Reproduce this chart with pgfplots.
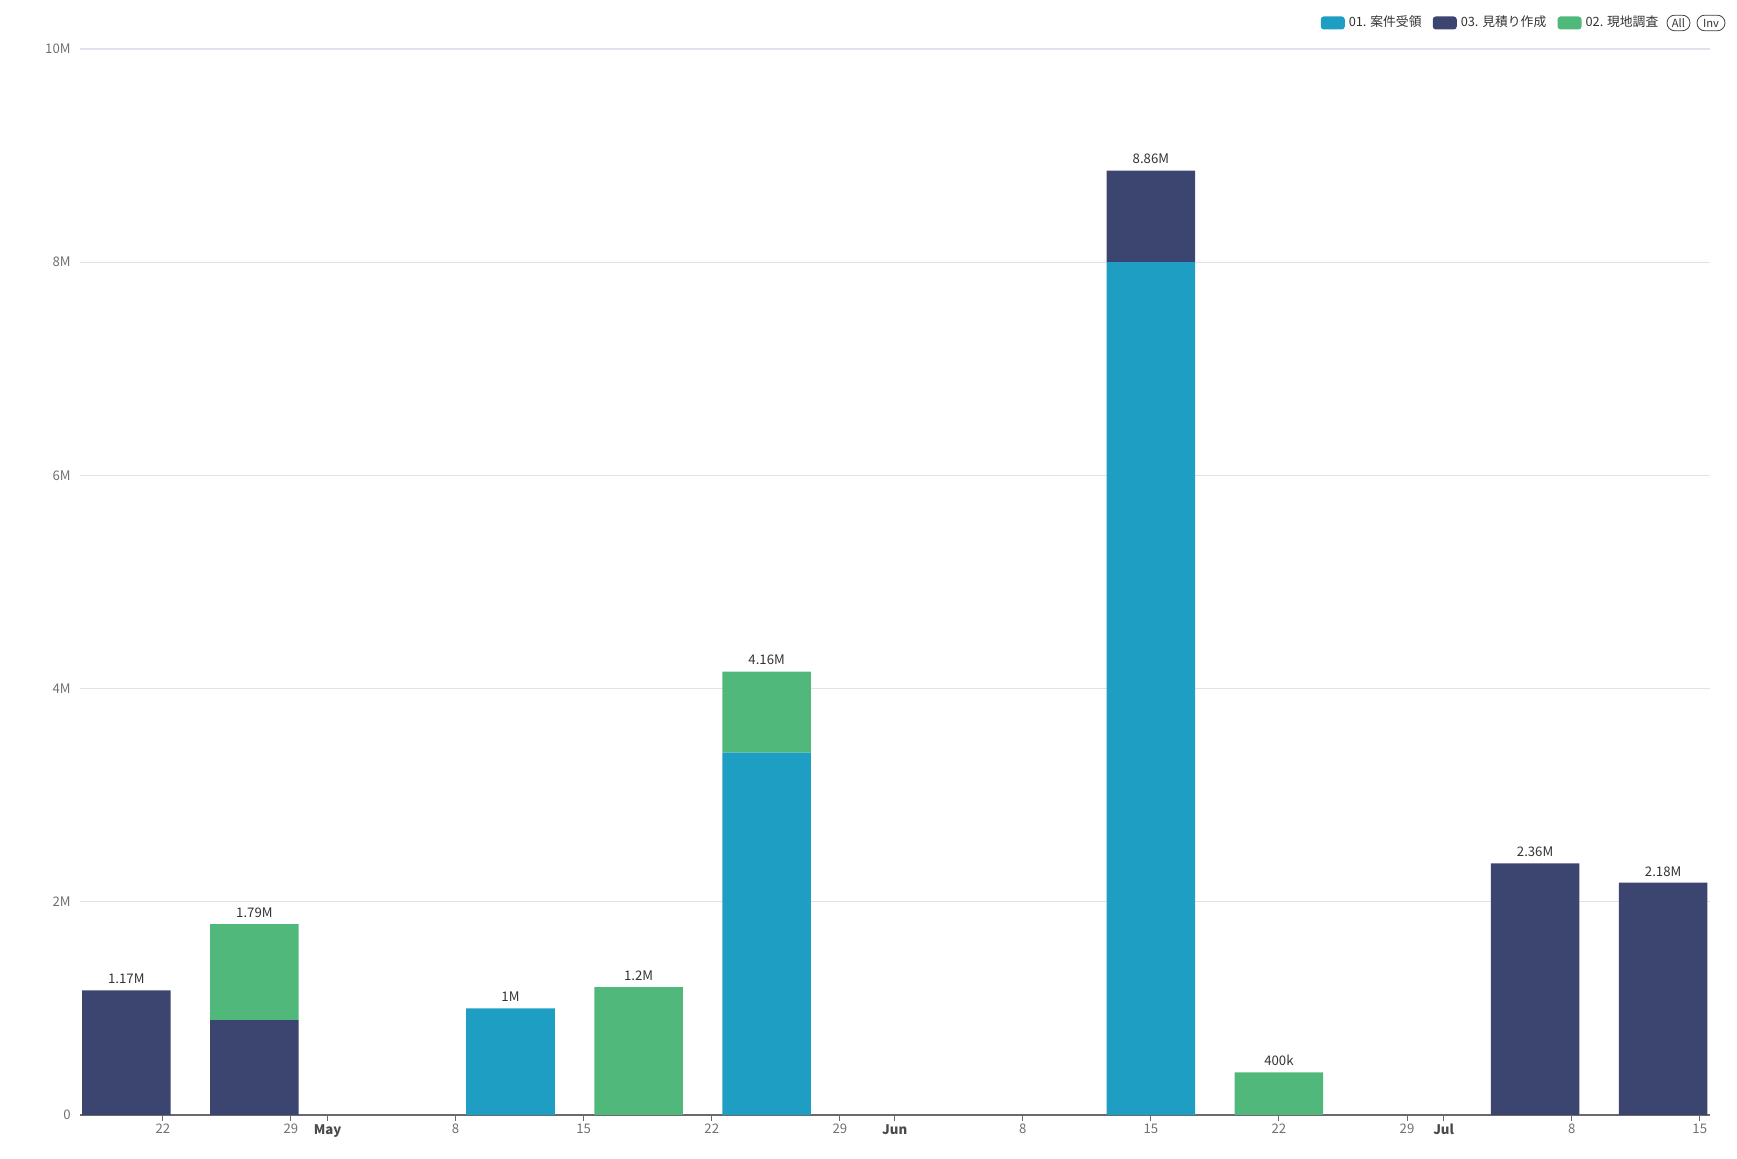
\documentclass[border=0pt]{standalone}
\usepackage{pgfplots}
\pgfplotsset{compat=1.18}
\usepackage{fontspec}
\setmainfont{Noto Sans CJK JP}
\definecolor{cblue}{HTML}{1F9EC4}
\definecolor{cnavy}{HTML}{3C4470}
\definecolor{cgreen}{HTML}{51B87C}
\definecolor{cgrid}{HTML}{E1E1EC}
\definecolor{ctick}{HTML}{707070}
\definecolor{cmonth}{HTML}{4A4A4A}
\definecolor{caxis}{HTML}{6A6A6A}
\pgfplotsset{mylegend/.style={legend image code/.code={\fill[##1,rounded corners=1.5pt] (0pt,-3.25pt) rectangle (12pt,3.25pt);}}}
\pgfplotsset{samebox/.style={at={(40pt,22pt)}, anchor=south west,
  scale only axis, width=815pt, height=533pt,
  xmin=16.47, xmax=105.56, ymin=0, ymax=10}}
\begin{document}
\begin{tikzpicture}[x=1pt,y=1pt]
\useasboundingbox (0,0) rectangle (868.5,579.5);
\begin{axis}[
  samebox,
  ybar stacked, bar width=4.84,
  axis x line*=bottom, axis y line*=left,
  y axis line style={draw=none},
  x axis line style={draw=caxis, line width=0.8pt},
  xtick={21,28,30,37,44,51,58,61,68,75,82,89,91,98,105},
  xticklabels={22,29,\textbf{\color{cmonth}May},8,15,22,29,\textbf{\color{cmonth}Jun},8,15,22,29,\textbf{\color{cmonth}Jul},8,15},
  ytick={0,2,4,6,8,10},
  yticklabels={0,2M,4M,6M,8M,10M},
  tick align=outside,
  major tick length=3pt,
  xtick style={draw=caxis, line width=0.5pt},
  ytick style={draw=none},
  ymajorgrids, grid style={draw=cgrid, line width=0.6pt},
  xticklabel style={font=\fontsize{6.6}{7}\selectfont, text=ctick, anchor=north, inner sep=0pt, yshift=-1.5pt},
  yticklabel style={font=\fontsize{6.6}{7}\selectfont, text=ctick, anchor=east, inner sep=0pt, xshift=-1.5pt},
  legend style={at={(axis description cs:0.7612,1.0244)}, anchor=west, draw=none, fill=none, inner sep=0pt, outer sep=0pt,
    font=\fontsize{6.4}{7}\selectfont, text=black!80,
    /tikz/every even column/.append style={column sep=3.6pt}},
  legend columns=-1,
  legend cell align=left,
  clip=false,
]
\addplot[fill=cblue, draw=none, mylegend] coordinates {
 (19,0) (26,0) (40,1.0) (47,0) (54,3.40) (75,8.0) (82,0) (96,0) (103,0)};
\addlegendentry{01. 案件受領}
\addplot[fill=cnavy, draw=none, mylegend] coordinates {
 (19,1.17) (26,0.89) (40,0) (47,0) (54,0) (75,0.86) (82,0) (96,2.36) (103,2.18)};
\addlegendentry{03. 見積り作成}
\addplot[fill=cgreen, draw=none, mylegend] coordinates {
 (19,0) (26,0.90) (40,0) (47,1.2) (54,0.76) (75,0) (82,0.4) (96,0) (103,0)};
\addlegendentry{02. 現地調査}
\end{axis}
\begin{axis}[samebox, hide axis, clip=false]
\addplot[only marks, mark=none, nodes near coords, point meta=explicit symbolic,
  nodes near coords style={font=\fontsize{6.6}{7}\selectfont, text=black!80, anchor=south, inner sep=0pt, yshift=3pt}]
 coordinates {
 (19,1.17) [1.17M] (26,1.79) [1.79M] (40,1.0) [1M] (47,1.2) [1.2M] (54,4.16) [4.16M] (75,8.86) [8.86M] (82,0.4) [400k] (96,2.36) [2.36M] (103,2.18) [2.18M]};
\end{axis}
\node[draw=black!75, line width=0.4pt, rounded corners=3.9pt, minimum height=7.8pt, minimum width=11.5pt, inner xsep=1pt, inner ysep=0pt, font=\fontsize{5.6}{6}\selectfont, text=black!80] at (839.25,568) {All};
\node[draw=black!75, line width=0.4pt, rounded corners=3.9pt, minimum height=7.8pt, minimum width=14pt, inner xsep=1pt, inner ysep=0pt, font=\fontsize{5.6}{6}\selectfont, text=black!80] at (855.5,568) {Inv};
\end{tikzpicture}
\end{document}
